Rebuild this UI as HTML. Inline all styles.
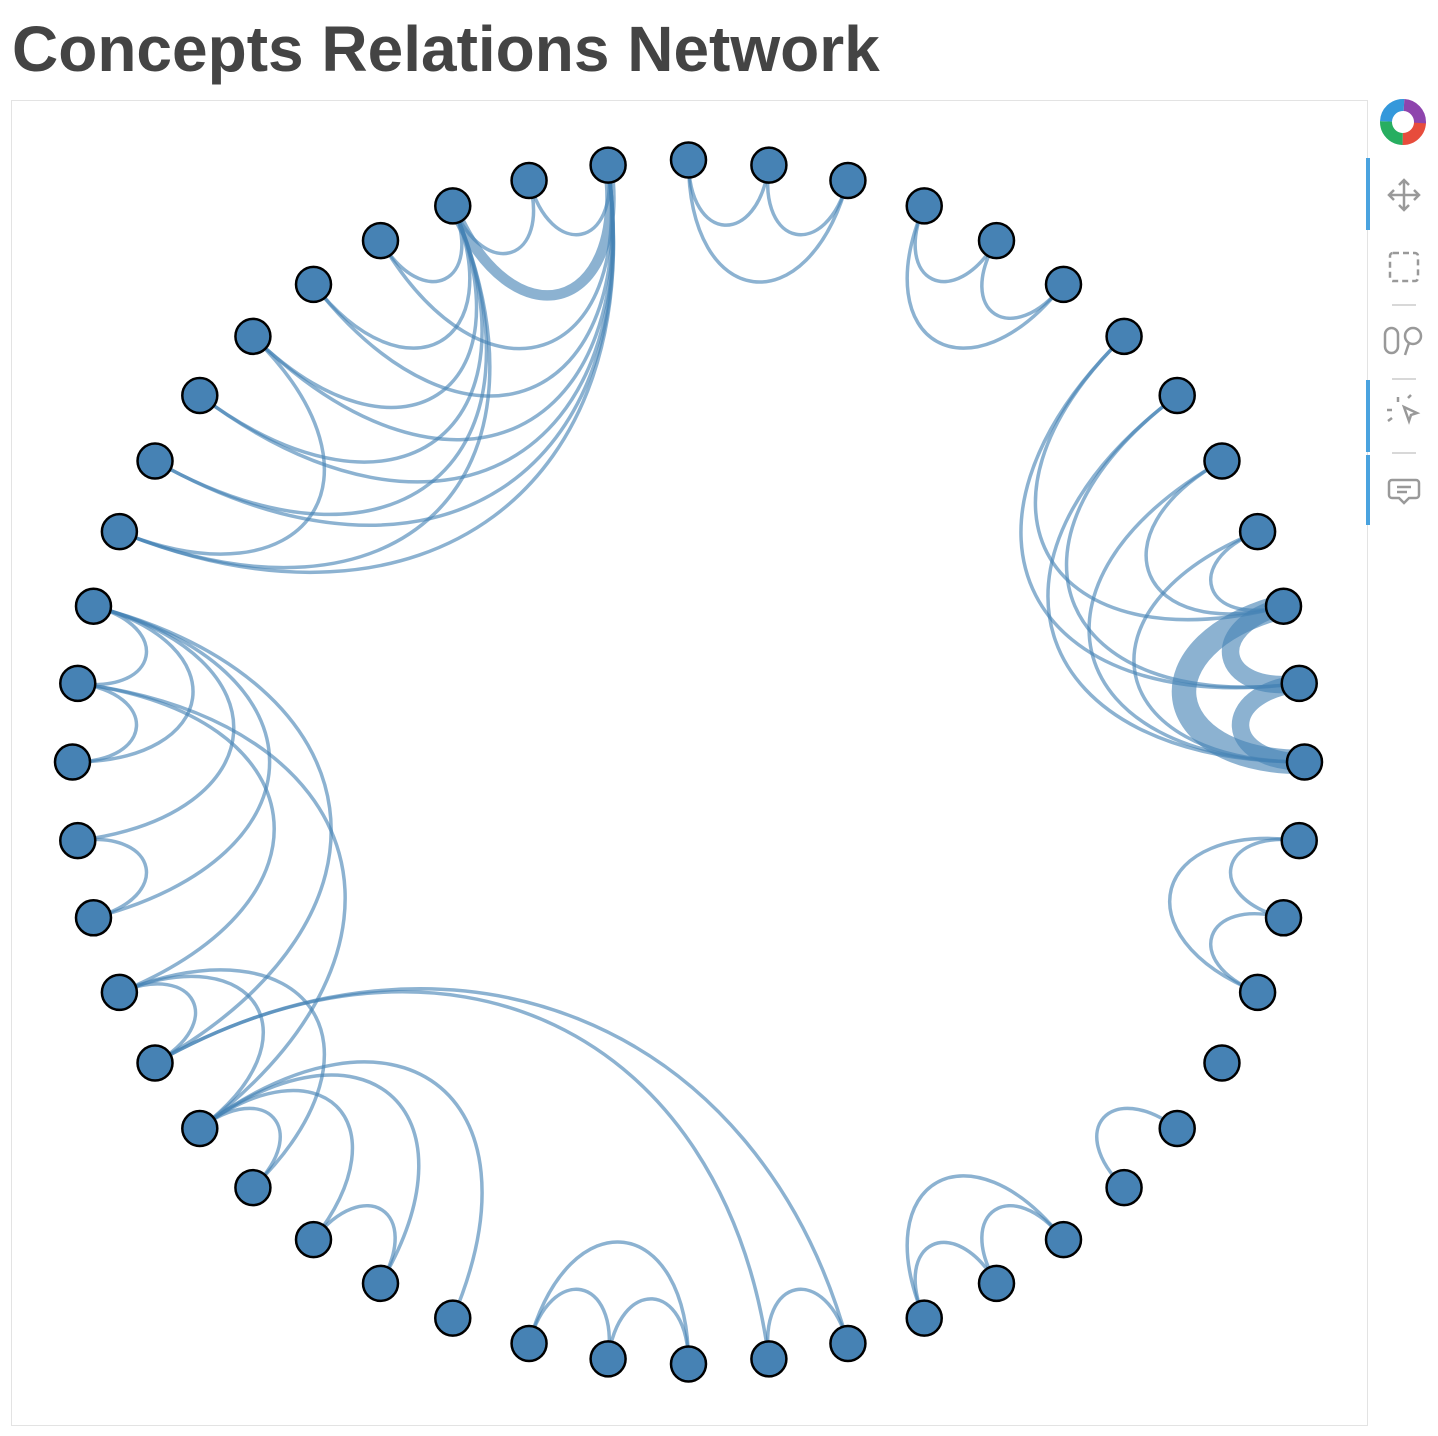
<!DOCTYPE html>
<html><head><meta charset="utf-8"><style>
html,body{margin:0;padding:0;background:#fff;width:1438px;height:1436px;overflow:hidden}
#title{position:absolute;left:12px;top:17px;font:bold 64px/1 "Liberation Sans",sans-serif;color:#444;white-space:nowrap}
#frame{position:absolute;left:11px;top:100px;width:1355px;height:1324px;border:1px solid #e3e3e3}
svg{position:absolute;left:0;top:0}
</style></head><body>
<div id="title">Concepts Relations Network</div>
<div id="frame"></div>
<svg id="chart" width="1438" height="1436">
<g id="edges"></g>
<g id="nodes"></g>
<g id="toolbar">
 <g transform="translate(1403,122)">
  <circle r="17" fill="none" stroke="#e74c3c" stroke-width="12" stroke-dasharray="27 80"/>
  <circle r="17" fill="none" stroke="#27ae60" stroke-width="12" stroke-dasharray="27 80" stroke-dashoffset="-27"/>
  <circle r="17" fill="none" stroke="#3498db" stroke-width="12" stroke-dasharray="27 80" stroke-dashoffset="-54"/>
  <circle r="17" fill="none" stroke="#8e44ad" stroke-width="12" stroke-dasharray="27 80" stroke-dashoffset="-81"/>
 </g>
 <rect x="1366" y="158" width="4" height="72" fill="#4aa3df"/>
 <rect x="1366" y="380" width="4" height="72" fill="#4aa3df"/>
 <rect x="1366" y="455" width="4" height="70" fill="#4aa3df"/>
 <g stroke="#999" stroke-width="2.5" fill="none">
  <path d="M1404 180v30M1389 195h30M1399 185l5-5 5 5M1399 205l5 5 5-5M1394 190l-5 5 5 5M1414 190l5 5-5 5"/>
 </g>
 <rect x="1390" y="253" width="28" height="28" rx="3" fill="none" stroke="#999" stroke-width="2.5" stroke-dasharray="6 4"/>
 <line x1="1392" y1="305" x2="1416" y2="305" stroke="#ccc" stroke-width="1.5"/>
 <g stroke="#999" stroke-width="2.5" fill="none">
  <rect x="1385" y="328" width="13" height="25" rx="6.5"/><circle cx="1413" cy="336" r="8"/><path d="M1409 343l-4 12"/>
 </g>
 <line x1="1392" y1="379" x2="1416" y2="379" stroke="#ccc" stroke-width="1.5"/>
 <g stroke="#999" stroke-width="2.5" fill="none">
  <path d="M1404 407l13 6-6 2-2 6z M1398 402v-5 M1392 410h-5 M1392 418l-4 3 M1408 398l3-3"/>
 </g>
 <line x1="1392" y1="453" x2="1416" y2="453" stroke="#ccc" stroke-width="1.5"/>
 <g stroke="#999" stroke-width="2.5" fill="none">
  <path d="M1392 480h24a3 3 0 0 1 3 3v12a3 3 0 0 1-3 3h-7l-5 5-5-5h-7a3 3 0 0 1-3-3v-12a3 3 0 0 1 3-3z M1397 487h14 M1397 492h10"/>
 </g>
</g>
</svg>
<script>
const nodeCount = 48;
const edgeSources = [12,11,12,9,8,9, 6,6,5,5,4,4,3,3,2,2,1, 13,13,14,15,13,15,13,15,13,15,13,13,15,13,15,18, 22,23,22,22,25,22,22,23,23, 27,27,27,28,28,29,29,29,29,31, 34,34,35,37, 39,39,40,42, 47,47,46];
const edgeTargets = [11,10,10,8,7,7, 2,1,1,0,2,0,2,0,0,1,0, 14,15,15,16,16,17,17,18,18,19,19,20,20,21,21,21, 23,24,24,25,26,26,28,29,27, 28,29,30,37,38,30,31,32,33,32, 35,36,36,38, 41,40,41,43, 45,46,45];
const edgeWeights = [1,1,1,1,1,1, 1,1,1,1,1,1,1,1,7,5,5, 1,3,1,1,1,1,1,1,1,1,1,1,1,1,1,1, 1,1,1,1,1,1,1,1,1, 1,1,1,1,1,1,1,1,1,1, 1,1,1,1, 1,1,1,1, 1,1,1];

const cx = 688.5, cy = 762, rx = 616, ry = 602;
const NS = 'http://www.w3.org/2000/svg';
function nodeX(i){ return cx + rx*Math.cos(i*2*Math.PI/nodeCount); }
function nodeY(i){ return cy - ry*Math.sin(i*2*Math.PI/nodeCount); }
function widthScale(w){ return 3.5*w; }

const eg = document.getElementById('edges');
for (let k=0;k<edgeSources.length;k++){
  const a=edgeSources[k], b=edgeTargets[k];
  const x0=nodeX(a), y0=nodeY(a), x1=nodeX(b), y1=nodeY(b);
  const chord=Math.hypot(x1-x0,y1-y0);
  const d=chord*1.15*Math.exp(-chord/800);
  const d0=Math.hypot(cx-x0,cy-y0), d1=Math.hypot(cx-x1,cy-y1);
  const c0x=x0+d*(cx-x0)/d0, c0y=y0+d*(cy-y0)/d0;
  const c1x=x1+d*(cx-x1)/d1, c1y=y1+d*(cy-y1)/d1;
  const p=document.createElementNS(NS,'path');
  p.setAttribute('d',`M${x0},${y0} C${c0x},${c0y} ${c1x},${c1y} ${x1},${y1}`);
  p.setAttribute('fill','none');
  p.setAttribute('stroke','#4682b4');
  p.setAttribute('stroke-opacity','0.62');
  p.setAttribute('stroke-width',widthScale(edgeWeights[k]));
  
  
  eg.appendChild(p);
}
const ng = document.getElementById('nodes');
for (let i=0;i<nodeCount;i++){
  const c=document.createElementNS(NS,'circle');
  c.setAttribute('cx',nodeX(i)); c.setAttribute('cy',nodeY(i)); c.setAttribute('r',17.5);
  c.setAttribute('fill','#4682b4'); c.setAttribute('stroke','#000'); c.setAttribute('stroke-width','2.5');
  
  
  ng.appendChild(c);
}
</script>
</body></html>
